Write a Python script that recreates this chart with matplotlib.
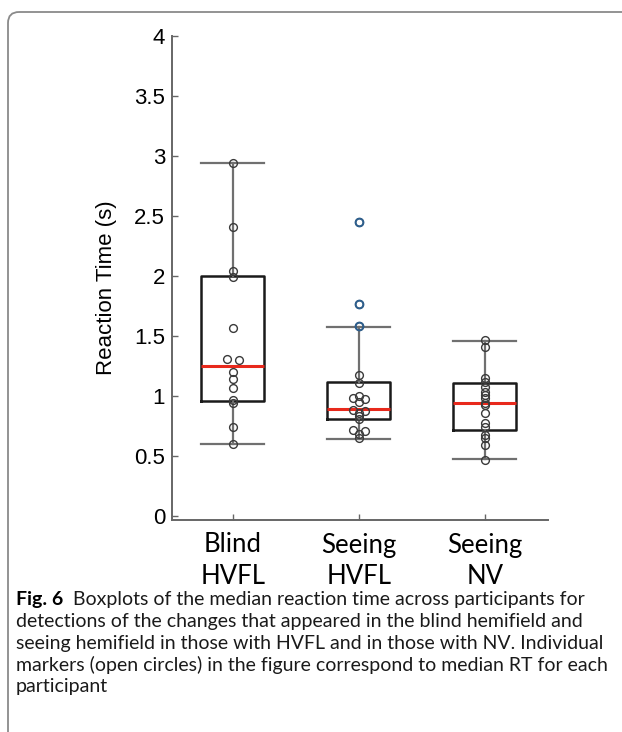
import numpy as np
import matplotlib
matplotlib.use('Agg')
import matplotlib.pyplot as plt
from matplotlib.patches import FancyBboxPatch

# values
categories = ['Blind\nHVFL', 'Seeing\nHVFL', 'Seeing\nNV']
blind_hvfl = [2.94, 2.41, 2.04, 1.99, 1.57, 1.31, 1.30, 1.20, 1.14, 1.07, 0.965, 0.945, 0.74, 0.60]
seeing_hvfl = [1.175, 1.105, 1.00, 0.98, 0.975, 0.95, 0.885, 0.875, 0.86, 0.83, 0.81,
               0.715, 0.705, 0.68, 0.65]
seeing_hvfl_flagged = [2.45, 1.77, 1.58]
seeing_nv = [1.47, 1.41, 1.148, 1.12, 1.078, 1.036, 1.008, 0.98, 0.945, 0.925,
             0.856, 0.772, 0.744, 0.675, 0.647, 0.592, 0.47]

q1 = [0.955, 0.806, 0.72]
medians = [1.253, 0.894, 0.945]
q3 = [2.0, 1.12, 1.105]
whisk_lo = [0.60, 0.645, 0.472]
whisk_hi = [2.94, 1.575, 1.455]

yticks = [0, 0.5, 1, 1.5, 2, 2.5, 3, 3.5, 4]
ylabel = 'Reaction Time (s)'

caption_lead = 'Fig. 6'
caption_lines = [
    'Boxplots of the median reaction time across participants for',
    'detections of the changes that appeared in the blind hemifield and',
    'seeing hemifield in those with HVFL and in those with NV. Individual',
    'markers (open circles) in the figure correspond to median RT for each',
    'participant',
]


def swarm_offsets(vals, thr=0.015, step=0.047):
    vals = np.asarray(vals, dtype=float)
    order = np.argsort(vals)[::-1]
    offs = np.zeros(len(vals))
    clusters = []
    cur = [order[0]]
    for i in order[1:]:
        if vals[cur[-1]] - vals[i] < thr:
            cur.append(i)
        else:
            clusters.append(cur)
            cur = [i]
    clusters.append(cur)
    for c in clusters:
        n = len(c)
        slots = [0.0] if n % 2 else []
        for k in range(1, n // 2 + 1):
            slots += [-k * step, k * step]
        for idx, s in zip(c, slots):
            offs[idx] = s
    return offs


W, H = 622, 732
fig = plt.figure(figsize=(W / 100, H / 100), dpi=100)

# frame + caption layer in pixel units
bg = fig.add_axes([0, 0, 1, 1])
bg.set_xlim(0, W)
bg.set_ylim(H, 0)
bg.axis('off')
bg.add_patch(FancyBboxPatch((8, 12), 700, 800, boxstyle='round,pad=0,rounding_size=11',
                            fc='none', ec='#8a8a8a', lw=1.3))

ax = fig.add_axes([172 / W, (H - 520) / H, 376 / W, 484 / H])

stats = []
for i in range(3):
    stats.append(dict(q1=q1[i], med=medians[i], q3=q3[i],
                      whislo=whisk_lo[i], whishi=whisk_hi[i], fliers=[]))
ax.bxp(stats, positions=[1, 2, 3], widths=0.5, capwidths=0.5, showfliers=False,
       manage_ticks=False,
       boxprops=dict(color='#1a1a1a', lw=1.8),
       medianprops=dict(color='#e8291c', lw=2.2),
       whiskerprops=dict(color='#707070', lw=1.6),
       capprops=dict(color='#707070', lw=1.6))

# individual participants
groups = [blind_hvfl, seeing_hvfl + seeing_hvfl_flagged, seeing_nv]
for pos, vals in zip([1, 2, 3], groups):
    offs = swarm_offsets(vals)
    ax.plot(pos + offs, vals, 'o', ls='none', mfc='none', mec='#3a3a3a', ms=5.6, mew=1.0, zorder=4)
# flagged ones in blue
fl_all = seeing_hvfl + seeing_hvfl_flagged
offs2 = swarm_offsets(fl_all)
n0 = len(seeing_hvfl)
ax.plot(2 + offs2[n0:], seeing_hvfl_flagged, 'o', ls='none', mfc='none', mec='#2d5f8e',
        ms=5.6, mew=1.4, zorder=5)

ax.set_xlim(0.516, 3.5)
ax.set_ylim(-1 / 30, 4)
ax.set_yticks(yticks)
ax.set_yticklabels(['%g' % t for t in yticks], family='Liberation Sans', fontsize=16)
ax.set_xticks([1, 2, 3])
ax.set_xticklabels(categories, family='Lato', fontsize=18.5, linespacing=1.3)
ax.tick_params(direction='in', length=4, width=1, color='#666666')
ax.tick_params(axis='y', pad=5)
ax.tick_params(axis='x', pad=9)
for s in ['top', 'right']:
    ax.spines[s].set_visible(False)
for s in ['left', 'bottom']:
    ax.spines[s].set_color('#666666')
    ax.spines[s].set_linewidth(1.4)

ax.set_ylabel(ylabel, family='Liberation Sans', fontsize=16)
ax.yaxis.set_label_coords(-0.145, 0.481)

# caption
fig.canvas.draw()
r = fig.canvas.get_renderer()
cap_fs = 14.0
baselines = [605, 627, 649, 670.5, 692]
lead = bg.text(16, baselines[0], caption_lead, family='Lato', weight='bold', fontsize=cap_fs,
               va='baseline', ha='left')
lw = lead.get_window_extent(r).width
for i, line in enumerate(caption_lines):
    x = 16 + lw + 10 if i == 0 else 16
    bg.text(x, baselines[i], line, family='Lato', fontsize=cap_fs, va='baseline', ha='left',
            color='#1a1a1a')

fig.savefig('out.png', dpi=100)
